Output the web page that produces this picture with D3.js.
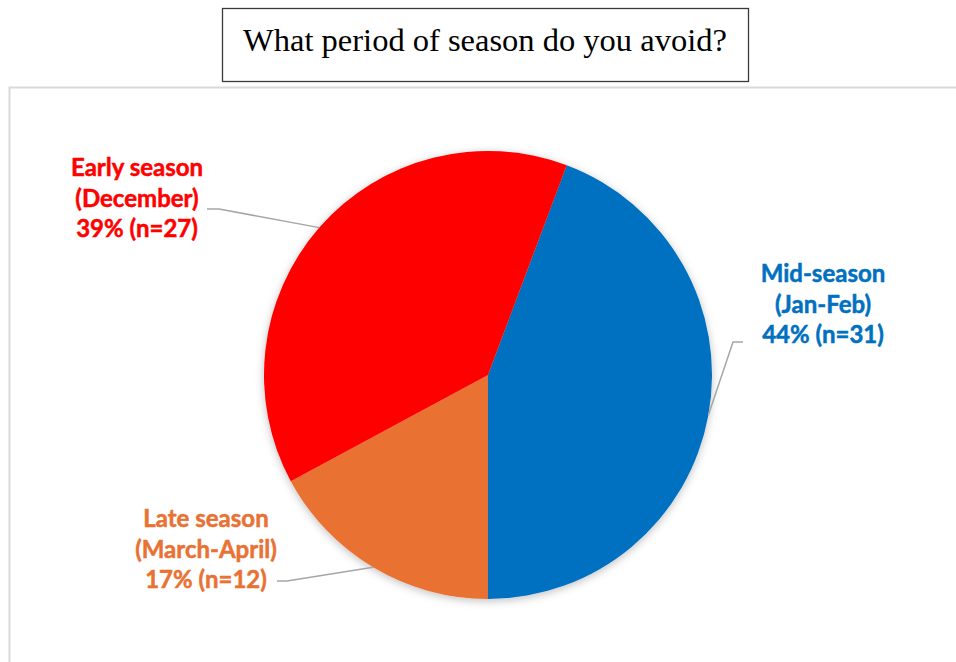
<!DOCTYPE html>
<html>
<head>
<meta charset="utf-8">
<script src="https://cdn.jsdelivr.net/npm/d3@7"></script>
<style>
  html, body { margin: 0; padding: 0; background: #ffffff; }
  svg { display: block; }
</style>
</head>
<body>
<svg id="chart" width="956" height="662"></svg>
<script>
// ---- data ----
const titleText = "What period of season do you avoid?";
const categories = ["Mid-season", "Late season", "Early season"];
const subLabels = ["(Jan-Feb)", "(March-April)", "(December)"];
const counts = [31, 12, 27];
const percentLabels = ["44% (n=31)", "17% (n=12)", "39% (n=27)"];
const colors = ["#0070C0", "#E97132", "#FF0000"];

// ---- layout ----
const W = 956, H = 662;
const cx = 488, cy = 375, R = 224;
const svg = d3.select("#chart");

// chart frame
svg.append("rect")
  .attr("x", 9.5).attr("y", 87.5)
  .attr("width", 960).attr("height", 600)
  .attr("fill", "#ffffff")
  .attr("stroke", "#D9D9D9").attr("stroke-width", 2);

// title box
svg.append("rect")
  .attr("x", 222.5).attr("y", 8.5)
  .attr("width", 526).attr("height", 73)
  .attr("fill", "#ffffff")
  .attr("stroke", "#3a3a3a").attr("stroke-width", 1.3);
svg.append("text")
  .attr("x", 485).attr("y", 51)
  .attr("text-anchor", "middle")
  .attr("font-family", "'Liberation Serif', 'Times New Roman', serif")
  .attr("font-size", 32.5)
  .attr("fill", "#000")
  .text(titleText);

// shadow filter
const defs = svg.append("defs");
const f = defs.append("filter").attr("id", "shadow")
  .attr("x", "-20%").attr("y", "-20%").attr("width", "140%").attr("height", "140%");
f.append("feDropShadow").attr("dx", 0).attr("dy", 2).attr("stdDeviation", 4)
  .attr("flood-color", "#000").attr("flood-opacity", 0.25);

// pie
const total = d3.sum(counts);
const rotation = Math.PI - 2 * Math.PI * counts[0] / total; // first slice ends at the bottom
const pie = d3.pie().sort(null).value(d => d)
  .startAngle(rotation).endAngle(rotation + 2 * Math.PI);
const arcs = pie(counts);
const arc = d3.arc().innerRadius(0).outerRadius(R);

const g = svg.append("g").attr("transform", `translate(${cx},${cy})`);
g.append("g").attr("filter", "url(#shadow)")
  .selectAll("path").data(arcs).join("path")
  .attr("d", arc)
  .attr("fill", (d, i) => colors[i]);

// labels
const labelPos = [
  { x: 823, y: 282, lx: 743, ly: 342, elbow: 733 },   // Mid
  { x: 206, y: 527, lx: 277, ly: 581, elbow: 287 },   // Late
  { x: 137, y: 176, lx: 207, ly: 209, elbow: 219 }    // Early
];
const lineH = 30.5;

arcs.forEach((a, i) => {
  const mid = (a.startAngle + a.endAngle) / 2;
  const ex = cx + R * Math.sin(mid);
  const ey = cy - R * Math.cos(mid);
  const p = labelPos[i];
  svg.append("polyline")
    .attr("points", `${p.lx},${p.ly} ${p.elbow},${p.ly} ${ex},${ey}`)
    .attr("fill", "none")
    .attr("stroke", "#A6A6A6").attr("stroke-width", 1.5);

  const t = svg.append("text")
    .attr("text-anchor", "middle")
    .attr("font-family", "Lato, 'Noto Sans', sans-serif")
    .attr("font-weight", "bold")
    .attr("font-size", 24)
    .attr("fill", colors[i])
    .attr("stroke", colors[i])
    .attr("stroke-width", 0.5);
  [categories[i], subLabels[i], percentLabels[i]].forEach((s, k) => {
    t.append("tspan").attr("x", p.x).attr("y", p.y + k * lineH).text(s);
  });
});
</script>
</body>
</html>
